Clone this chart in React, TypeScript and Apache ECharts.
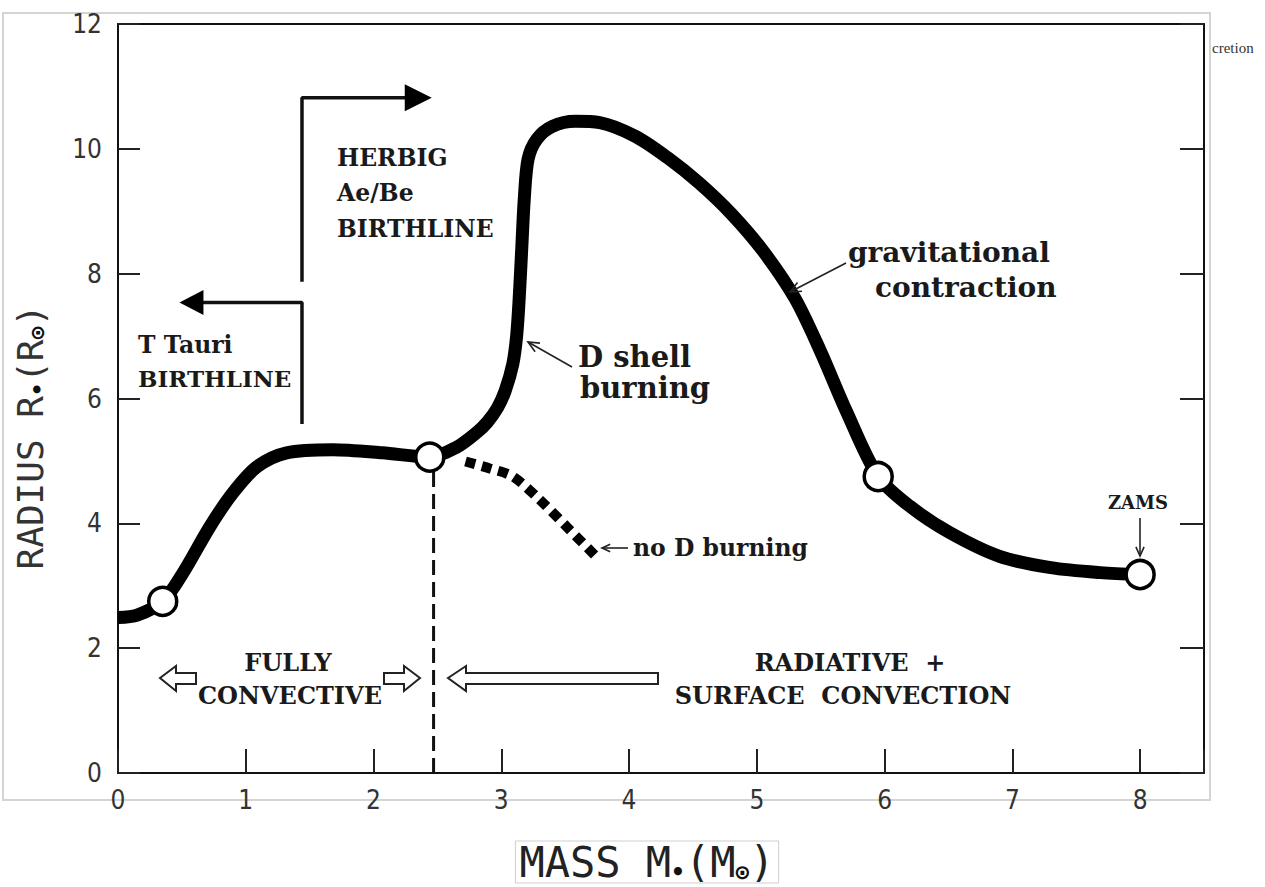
import React, { useEffect, useRef } from "react";
import * as echarts from "echarts";

// ---------- data ----------
const xTickLabels = ["0", "1", "2", "3", "4", "5", "6", "7", "8"];
const yTickLabels = ["0", "2", "4", "6", "8", "10", "12"];

// main evolutionary track (mass in Msun, radius in Rsun)
const massMain = [
  0, 0.15, 0.35, 0.51, 0.72, 0.9, 1.09, 1.32, 1.68, 2.07, 2.44, 2.65, 2.81, 2.89, 2.97, 3.03,
  3.09, 3.12, 3.14, 3.16, 3.18, 3.21, 3.28, 3.4, 3.58, 3.77, 4.05, 4.3, 4.55, 4.8, 5.05, 5.3,
  5.5, 5.7, 5.95, 6.2, 6.51, 6.9, 7.3, 7.69, 8.0,
];
const radiusMain = [
  2.49, 2.53, 2.75, 3.21, 3.95, 4.49, 4.91, 5.13, 5.18, 5.13, 5.06, 5.22, 5.46, 5.62, 5.85, 6.12,
  6.55, 7.0, 7.6, 8.4, 9.2, 9.84, 10.16, 10.36, 10.44, 10.42, 10.2, 9.86, 9.45, 8.96, 8.36, 7.6,
  6.75, 5.8, 4.75, 4.27, 3.85, 3.47, 3.29, 3.21, 3.18,
];

// open circles on the track
const circleMass = [0.35, 2.44, 5.95, 8.0];
const circleRadius = [2.75, 5.06, 4.75, 3.18];

// "no D burning" branch
const noDMass = [2.72, 2.91, 3.09, 3.3, 3.51, 3.75];
const noDRadius = [4.99, 4.88, 4.75, 4.38, 3.95, 3.45];

// fully convective boundary
const boundaryMass = [2.47, 2.47];
const boundaryRadius = [0, 5.0];

// birthline brackets
const tTauriMass = [1.44, 1.44, 0.575];
const tTauriRadius = [5.59, 7.54, 7.54];
const herbigMass = [1.44, 1.44, 2.35];
const herbigRadius = [7.87, 10.82, 10.82];

const pairs = (xs: number[], ys: number[]) => xs.map((x, i) => [x, ys[i]]);

const SERIF = "'DejaVu Serif', 'Liberation Serif', serif";
const SANS = "'DejaVu Sans Condensed', 'DejaVu Sans', sans-serif";
const MONO = "'DejaVu Sans Mono', 'Liberation Mono', monospace";

function txt(text: string, x: number, y: number, size: number, align = "left") {
  return {
    type: "text",
    x,
    y,
    z: 10,
    style: {
      text,
      font: `bold ${size}px ${SERIF}`,
      lineHeight: Math.round(size * 0.95),
      fill: "#1a1a1a",
      align,
      textAlign: align,
      verticalAlign: "middle",
      textVerticalAlign: "middle",
    },
  };
}

function thinArrow(fx: number, fy: number, tx: number, ty: number, len = 12) {
  const a = Math.atan2(fy - ty, fx - tx);
  const s = 0.42;
  return [
    {
      type: "line",
      z: 10,
      shape: { x1: fx, y1: fy, x2: tx, y2: ty },
      style: { stroke: "#222", lineWidth: 1.6 },
    },
    {
      type: "polyline",
      z: 10,
      shape: {
        points: [
          [tx + len * Math.cos(a + s), ty + len * Math.sin(a + s)],
          [tx, ty],
          [tx + len * Math.cos(a - s), ty + len * Math.sin(a - s)],
        ],
      },
      style: { stroke: "#222", lineWidth: 1.6, fill: "none" },
    },
  ];
}

function hollow(points: number[][]) {
  return {
    type: "polygon",
    z: 10,
    shape: { points },
    style: { fill: "#fff", stroke: "#222", lineWidth: 2 },
  };
}

export default function App() {
  const ref = useRef<HTMLDivElement>(null);

  useEffect(() => {
    document.body.style.margin = "0";
    const chart = echarts.init(ref.current!, null, { renderer: "svg" });

    const option: any = {
      animation: false,
      backgroundColor: "#fff",
      grid: { left: 118, right: 61, top: 24, bottom: 114, show: false },
      xAxis: [
        {
          type: "value",
          min: 0,
          max: 8.5,
          interval: 1,
          axisLine: { show: true, lineStyle: { color: "#111", width: 2 } },
          axisTick: { show: true, inside: true, length: 24, lineStyle: { color: "#222", width: 2 } },
          axisLabel: {
            margin: 14,
            fontFamily: SANS,
            fontSize: 26,
            color: "#333",
            formatter: (v: number) => (xTickLabels.includes(String(v)) ? String(v) : ""),
          },
          splitLine: { show: false },
        },
        {
          type: "value",
          position: "top",
          min: 0,
          max: 8.5,
          axisLine: { show: true, onZero: false, lineStyle: { color: "#111", width: 2 } },
          axisTick: { show: false },
          axisLabel: { show: false },
          splitLine: { show: false },
        },
      ],
      yAxis: [
        {
          type: "value",
          min: 0,
          max: 12,
          interval: 2,
          axisLine: { show: true, lineStyle: { color: "#111", width: 2 } },
          axisTick: { show: true, inside: true, length: 22, lineStyle: { color: "#222", width: 2 } },
          axisLabel: {
            margin: 16,
            fontFamily: SANS,
            fontSize: 26,
            color: "#333",
            formatter: (v: number) => (yTickLabels.includes(String(v)) ? String(v) : ""),
          },
          splitLine: { show: false },
        },
        {
          type: "value",
          position: "right",
          min: 0,
          max: 12,
          interval: 2,
          axisLine: { show: true, onZero: false, lineStyle: { color: "#111", width: 2 } },
          axisTick: { show: true, inside: true, length: 24, lineStyle: { color: "#222", width: 2 } },
          axisLabel: { show: false },
          splitLine: { show: false },
        },
      ],
      series: [
        {
          type: "line",
          data: pairs(boundaryMass, boundaryRadius),
          symbol: "none",
          z: 1,
          lineStyle: { color: "#111", width: 3, type: [15, 7] },
        },
        {
          type: "line",
          data: pairs(noDMass, noDRadius),
          symbol: "none",
          smooth: 0.3,
          z: 2,
          lineStyle: { color: "#000", width: 10, type: [10, 7], cap: "butt" },
        },
        {
          type: "line",
          data: pairs(massMain, radiusMain),
          symbol: "none",
          smooth: 0.3,
          z: 3,
          lineStyle: { color: "#000", width: 13, cap: "butt", join: "round" },
        },
        {
          type: "line",
          data: pairs(tTauriMass, tTauriRadius),
          symbol: "none",
          z: 2,
          lineStyle: { color: "#111", width: 3.5 },
        },
        {
          type: "line",
          data: pairs(herbigMass, herbigRadius),
          symbol: "none",
          z: 2,
          lineStyle: { color: "#111", width: 3.5 },
        },
        {
          type: "scatter",
          data: [[tTauriMass[2], tTauriRadius[2]]],
          symbol: "triangle",
          symbolSize: [25, 24],
          symbolRotate: 90,
          z: 4,
          itemStyle: { color: "#000", opacity: 1 },
        },
        {
          type: "scatter",
          data: [[herbigMass[2], herbigRadius[2]]],
          symbol: "triangle",
          symbolSize: [27, 27],
          symbolRotate: -90,
          z: 4,
          itemStyle: { color: "#000", opacity: 1 },
        },
        {
          type: "scatter",
          data: pairs(circleMass, circleRadius),
          symbol: "circle",
          symbolSize: 28,
          z: 6,
          itemStyle: { color: "#fff", borderColor: "#000", borderWidth: 3.5, opacity: 1 },
        },
      ],
      graphic: [
        // scan frame artefact
        {
          type: "rect",
          z: 0,
          silent: true,
          shape: { x: 3, y: 13, width: 1207, height: 787 },
          style: { fill: "none", stroke: "#d4d4d4", lineWidth: 2 },
        },
        {
          type: "text",
          x: 1212,
          y: 48,
          style: { text: "cretion", font: "15px 'Liberation Serif', serif", fill: "#333", verticalAlign: "middle", textVerticalAlign: "middle" },
        },
        // axis titles
        {
          type: "text",
          x: 30,
          y: 437,
          rotation: Math.PI / 2,
          z: 10,
          style: {
            text: "RADIUS R{s|•}(R{s|⊙})",
            font: `36px ${MONO}`,
            fill: "#333",
            align: "center",
            textAlign: "center",
            verticalAlign: "middle",
            textVerticalAlign: "middle",
            rich: { s: { font: `bold 22px ${MONO}`, fill: "#111", verticalAlign: "bottom", padding: [12, 0, 0, 0] } },
          },
        },
        {
          type: "text",
          x: 647,
          y: 862,
          z: 10,
          style: {
            text: "MASS M{s|•}(M{s|⊙})",
            font: `42px ${MONO}`,
            fill: "#222",
            align: "center",
            textAlign: "center",
            verticalAlign: "middle",
            textVerticalAlign: "middle",
            borderColor: "#cfcfcf",
            borderWidth: 1,
            padding: [0, 4, 0, 4],
            rich: { s: { font: `bold 23px ${MONO}`, fill: "#111", verticalAlign: "bottom", padding: [14, 0, 0, 0] } },
          },
        },
        // HERBIG label
        txt("HERBIG", 337, 158, 23.5),
        txt("Ae/Be", 337, 193, 23.5),
        txt("BIRTHLINE", 337, 229, 23.5),
        // T Tauri label
        txt("T Tauri", 138, 345, 23.5),
        txt("BIRTHLINE", 138, 378, 23),
        // D shell burning
        txt("D shell", 578, 357, 29),
        txt("burning", 580, 388, 29),
        ...thinArrow(572, 367, 528, 342),
        // gravitational contraction
        txt("gravitational", 848, 252, 28),
        txt("contraction", 875, 287, 28),
        ...thinArrow(846, 263, 790, 292),
        // no D burning
        txt("no D burning", 633, 548, 23.5),
        ...thinArrow(628, 548, 602, 548, 9),
        // ZAMS
        txt("ZAMS", 1138, 502, 18, "center"),
        ...thinArrow(1140, 518, 1140, 556, 10),
        // FULLY CONVECTIVE / RADIATIVE
        txt("FULLY", 288, 662, 24, "center"),
        txt("CONVECTIVE", 290, 695, 24, "center"),
        txt("RADIATIVE  +", 850, 662, 24, "center"),
        txt("SURFACE  CONVECTION", 843, 695, 24, "center"),
        hollow([[160, 678], [176, 666], [176, 673], [196, 673], [196, 684], [176, 684], [176, 691]]),
        hollow([[420, 678], [404, 666], [404, 673], [384, 673], [384, 684], [404, 684], [404, 691]]),
        hollow([[448, 678], [466, 666], [466, 673], [658, 673], [658, 684], [466, 684], [466, 691]]),
      ],
    };

    chart.setOption(option);
    return () => chart.dispose();
  }, []);

  return <div ref={ref} style={{ width: 1265, height: 887, background: "#fff" }} />;
}
